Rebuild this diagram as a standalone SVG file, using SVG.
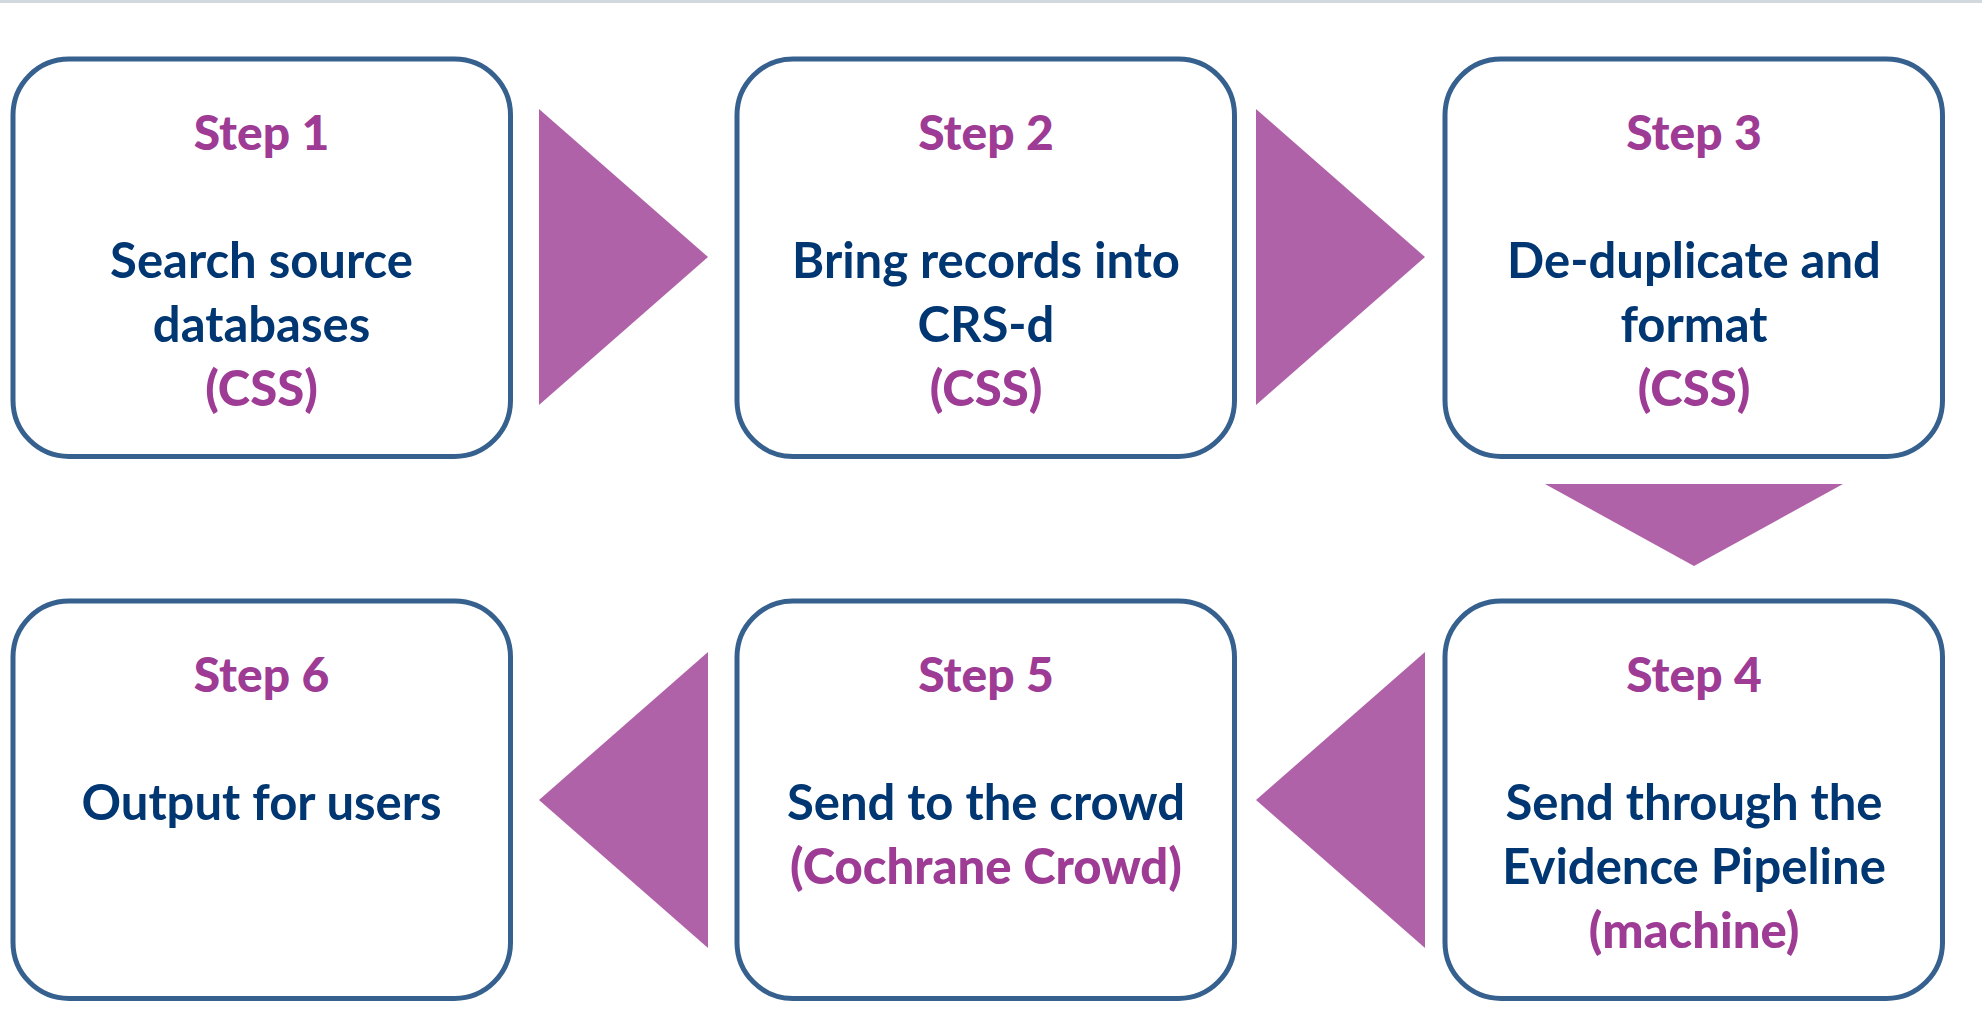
<svg xmlns="http://www.w3.org/2000/svg" width="1982" height="1032" viewBox="0 0 1982 1032">
<style>
.box{fill:#ffffff;stroke:#36618f;stroke-width:5}
.arr{fill:#b062a8}
text{font-family:Lato,"Liberation Sans",sans-serif;font-weight:700;font-size:49px;text-anchor:middle}
.st{fill:#9d3b95;font-weight:900;font-size:48px}
.bd{fill:#003671}
.pp{fill:#9d3b95;font-weight:900}
</style>
<rect x="0" y="0" width="1982" height="3" fill="#d1d9df"/>
<g id="connectors">
<polygon class="arr" points="539,109 708,257 539,405"/>
<polygon class="arr" points="1256,109 1425,257 1256,405"/>
<polygon class="arr" points="1545,484 1843,484 1694,566"/>
<polygon class="arr" points="1425,652 1256,800 1425,948"/>
<polygon class="arr" points="708,652 539,800 708,948"/>
</g>
<g id="step1">
<rect class="box" x="13" y="59" width="497.5" height="397.5" rx="56"/>
<text class="st" x="261.5" y="150">Step 1</text>
<text class="bd" x="261.5" y="278">Search source</text>
<text class="bd" x="261.5" y="342">databases</text>
<text class="pp" x="261.5" y="406">(CSS)</text>
</g>
<g id="step2">
<rect class="box" x="737" y="59" width="497.5" height="397.5" rx="56"/>
<text class="st" x="986" y="150">Step 2</text>
<text class="bd" x="986" y="278">Bring records into</text>
<text class="bd" x="986" y="342">CRS-d</text>
<text class="pp" x="986" y="406">(CSS)</text>
</g>
<g id="step3">
<rect class="box" x="1445" y="59" width="497.5" height="397.5" rx="56"/>
<text class="st" x="1694" y="150">Step 3</text>
<text class="bd" x="1694" y="278">De-duplicate and</text>
<text class="bd" x="1694" y="342">format</text>
<text class="pp" x="1694" y="406">(CSS)</text>
</g>
<g id="step4">
<rect class="box" x="1445" y="601" width="497.5" height="397.5" rx="56"/>
<text class="st" x="1694" y="692">Step 4</text>
<text class="bd" x="1694" y="820">Send through the</text>
<text class="bd" x="1694" y="884">Evidence Pipeline</text>
<text class="pp" x="1694" y="948">(machine)</text>
</g>
<g id="step5">
<rect class="box" x="737" y="601" width="497.5" height="397.5" rx="56"/>
<text class="st" x="986" y="692">Step 5</text>
<text class="bd" x="986" y="820">Send to the crowd</text>
<text class="pp" x="986" y="884">(Cochrane Crowd)</text>
</g>
<g id="step6">
<rect class="box" x="13" y="601" width="497.5" height="397.5" rx="56"/>
<text class="st" x="261.5" y="692">Step 6</text>
<text class="bd" x="261.5" y="820">Output for users</text>
</g>
</svg>
